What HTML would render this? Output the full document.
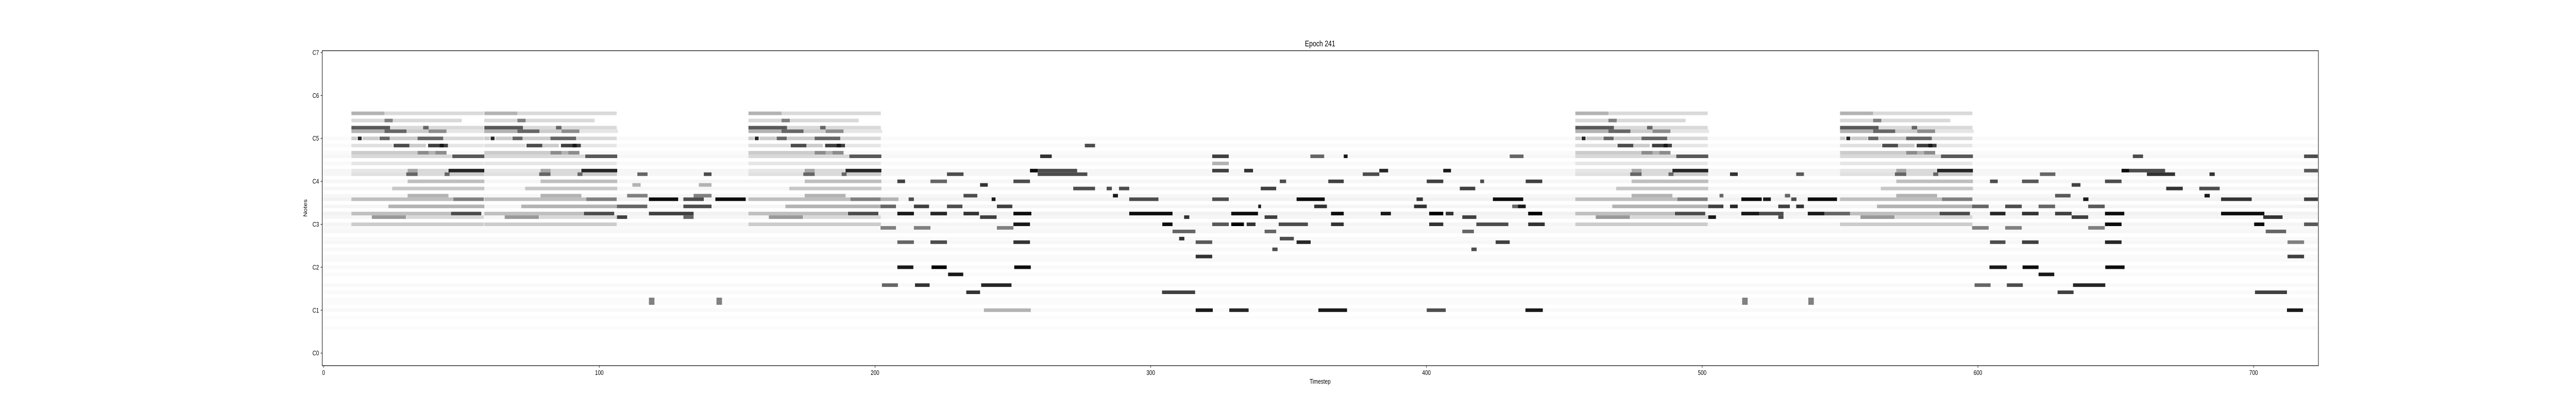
<!DOCTYPE html>
<html><head><meta charset="utf-8"><title>Epoch 241</title>
<style>
html,body{margin:0;padding:0;background:#fff;width:100%;height:100%;overflow:hidden;}
svg{display:block;position:fixed;left:0;top:0;width:100vw;height:100vh;font-family:"Liberation Sans","DejaVu Sans",sans-serif;}
</style></head>
<body>
<svg id="chart" viewBox="0 0 6500 800" preserveAspectRatio="none" xmlns="http://www.w3.org/2000/svg">
<rect width="6500" height="800" fill="#fff"/>
<text x="3331" y="90" font-size="16" text-anchor="middle">Epoch 241</text>
<g id="cells"></g>
<g id="axes"></g>
<text x="3331" y="745" font-size="13" text-anchor="middle">Timestep</text>
<text transform="translate(775,404) rotate(-90)" font-size="13" text-anchor="middle">Notes</text>
</svg>
<script>
// ---- data ----
var xTickValues = [0,100,200,300,400,500,600,700];
var yTickLabels = ["C0","C1","C2","C3","C4","C5","C6","C7"];
var yTickRows = [3,15,27,39,51,63,75,87];
// repeated upper-register motif, events [relStart, length, row, intensity]
var motifNotes = [
[0,12,70,.3],[12,36,70,.15],
[0,12,68,.15],[12,3,68,.5],[15,25,68,.15],
[0,14,66,.65],[14,12,66,.15],[26,2,66,.6],[28,20,66,.15],
[0,12,65,.3],[12,8,65,.6],[20,8,65,.2],[28,6.5,65,.45],[34.5,14,65,.1],
[0,2,63,.2],[2.3,1.4,63,.85],[4,6,63,.2],[10.2,3.7,63,.6],[14,10,63,.2],[24,9.3,63,.6],[33.3,14.7,63,.15],
[0,15,61,.12],[15.3,6,61,.7],[21,6,61,.2],[27.8,7.4,61,.75],[32,1.5,61,.9],[35,13,61,.1],
[0,24,59,.2],[24,4,59,.45],[28,4,59,.3],[30.5,4,59,.45],
[0,36.5,58,.15],[36.6,11.6,58,.65],
[0,48,56,.1],
[0,20.4,54,.1],[20.4,3.7,54,.35],[24,11,54,.15],[35.2,13,54,.85],
[0,20,53,.12],[19.9,4.2,53,.6],[24,10,53,.15],[33.8,2,53,.6],[35.6,12.5,53,.2],
[20.4,27.8,51,.25],[14.8,33.4,49,.22],[20.4,14.8,47,.3],
[0,37,46,.25],[37,11,46,.5],[13.4,34.8,44,.3],
[0,36,42,.25],[36.1,11,42,.7],[7.4,12.4,41,.4],[20,28,41,.15],[0,48,39,.2]
];
var motifStarts = [10.6,58.8,154.6,454.5,550.5];
// faint background rows [start, length, row, intensity]
var hazeNotes = [
[0,724,29,.025],[0,724,30,.02],[0,724,32,.025],[0,724,34,.03],[0,724,35,.02],[0,724,37,.03],
[0,724,38,.025],[0,724,39,.04],[0,724,41,.035],[0,724,42,.05],[0,724,44,.04],[0,724,46,.05],
[0,724,47,.03],[0,724,49,.035],[0,724,51,.035],[0,724,53,.035],[0,724,54,.035],[0,724,56,.02],
[0,724,58,.03],[0,724,59,.02],[0,724,61,.02],[0,724,63,.02],
[0,724,27,.025],[0,724,25,.02],[0,724,22,.025],[0,724,20,.02],[0,724,18,.015],[0,724,17,.015],
[0,724,15,.025],[0,724,13,.01],[0,724,10,.015]
];
// individual notes [start, length, row, intensity]
var noteEvents = [
[118.5,10.6,46,.95],[131,7.4,46,.7],[142.6,11,46,.95],
[106.9,11,44,.6],[131,10.2,44,.7],[118.5,16.2,42,.75],
[106.9,3.7,41,.75],[131,3.7,41,.6],[110.6,7.4,47,.5],[134.7,6.5,47,.5],
[114.3,3.7,53,.6],[138.4,2.8,53,.7],[112.5,3,50,.3],[136.6,4.6,50,.3],
[118.5,2,17,.5],[118.5,2,18,.5],[143,2,17,.5],[143,2,18,.5],
[208.6,2.8,51,.75],[220.6,6,51,.6],[250.7,6,51,.7],[238.6,2.8,50,.8],
[272.4,7.9,49,.7],[284.5,1.9,49,.7],[232.6,5,47,.7],[286.8,1.8,47,.9],
[202.5,6.5,46,.3],[212.7,1.9,46,.7],[242.8,1.4,46,.9],
[202.5,5.6,44,.6],[214.6,5.5,44,.75],[226.6,5.6,44,.7],[244.7,5.6,44,.75],
[208.6,6,42,.9],[220.6,6,42,.85],[232.6,5.6,42,.8],[250.7,6.5,42,.95],
[238.6,6,41,.75],[250.7,6,39,.9],
[202.5,5.6,38,.5],[214.6,6,38,.5],[244.7,6,38,.5],
[208.6,6,34,.6],[220.6,6,34,.7],[250.7,6,34,.8],
[256.7,2.8,54,.95],[259.5,14.3,54,.7],[226.6,6,53,.7],[259.5,18,53,.7],
[260.4,4.2,58,.8],[276.6,3.7,61,.7],
[322.8,6,58,.75],[358.4,5,58,.6],[370.5,1.4,58,.9],[430.7,5,58,.6],
[322.8,6,56,.3],
[322.8,6,54,.75],[334.4,3.2,54,.8],[383.4,3.2,54,.85],[406.6,2.8,54,.9],
[377.4,6,53,.7],
[347.3,2.3,51,.7],[364.9,5.6,51,.75],[400.6,6,51,.75],[420,1.4,51,.7],
[289,3.7,49,.7],[340.4,5.6,49,.75],[412.6,5.6,49,.75],
[292.7,10.6,46,.7],[322.8,6,46,.7],[353.4,10.2,46,.95],[396.9,2.3,46,.8],[424.6,11,46,.95],
[339.5,1,44,.9],[359.8,4.6,44,.8],[396,4.6,44,.8],[431.6,2.6,44,.6],[433.7,2.8,44,.9],
[292.7,15.7,42,.95],[329.7,9.7,42,.95],[365.9,4.6,42,.95],[383.9,3.7,42,.9],[401.5,5.1,42,1],[407.5,2.8,42,.8],
[312.6,1.9,41,.8],[341.8,4.6,41,.75],[413.5,5.1,41,.75],
[304.7,3.7,39,.95],[322.8,6,39,.65],[329.7,4.6,39,1],[335.3,3.2,39,.8],[346.9,10.6,39,.7],[365.9,4.6,39,.8],[401.5,5.1,39,.8],[418.6,11.6,39,.7],
[308.4,8.3,37,.6],[341.8,4.2,37,.6],[413.5,4.2,37,.6],
[310.8,1.9,35,.8],[347.3,5.1,35,.7],
[316.8,6,34,.65],[353.4,5.1,34,.85],[425.6,5.1,34,.75],
[344.6,1.9,32,.7],[416.8,1.9,32,.7],[316.8,6,30,.8],
[510.6,2.8,53,.8],[534.6,2.8,53,.65],[436.5,6,51,.75],
[514.7,7.4,46,.95],[522.6,2.8,46,.9],[532.8,1.9,46,.7],[538.8,10.6,46,.95],
[502.7,5.5,44,.75],[510.6,2.8,44,.85],[528.1,4.2,44,.75],[534.6,2.8,44,.8],
[437.4,5.1,42,1],[514.7,6.5,42,.9],[521.2,8.8,42,.7],[538.8,6,42,.9],[544.8,9.3,42,.6],
[502.7,2.8,41,.9],[528.1,1.9,41,.7],[437.4,6,39,.8],[506.8,1.4,47,.6],[530.5,1.9,47,.6],
[656.7,3.7,58,.7],[718.8,5,58,.7],
[652.6,2.8,54,.95],[655.4,13,54,.7],[718.8,5,54,.65],
[623,5.6,53,.6],[661.8,10.2,53,.8],[684.5,1.9,53,.8],
[604.9,2.8,51,.7],[616.5,6,51,.65],[646.6,6,51,.7],[634.5,3.2,50,.75],
[668.8,6,49,.8],[680.8,7.4,49,.7],[628.5,5.6,47,.65],[682.7,1.9,47,.9],
[638.7,1.9,46,.9],[688.7,11.1,46,.8],[718.8,5,46,.75],
[598.4,6,44,.6],[610.4,6,44,.7],[622.5,6,44,.6],[640.5,6,44,.65],
[604.9,5.6,42,.85],[616.5,6,42,.8],[628.5,6,42,.75],[646.6,7,42,.95],[688.7,15.7,42,.95],
[634.5,6,41,.75],[704,7,41,.8],
[646.6,6,39,.95],[700.7,3.7,39,.95],[718.8,5,39,.65],
[598.4,6,38,.5],[610.4,6,38,.5],[640.5,6,38,.5],[704.9,7.4,37,.6],
[604.9,5.6,34,.7],[616.5,6,34,.75],[646.6,6,34,.85],[712.8,6,34,.5],[712.8,6,30,.75],
[208.6,5.8,27,.9],[221,5.5,27,1],[251,6,27,.95],[227,5.5,25,.9],
[203,5.8,22,.6],[215,5.3,22,.8],[239,11,22,.85],
[233.6,5,20,.8],[304.6,12,20,.75],
[240,17,15,.3],[316.8,6.2,15,.9],[329,7,15,.85],
[361.3,10.4,15,.9],[400.6,6.9,15,.7],[436.4,6.3,15,.9],[712.6,5.8,15,.9],
[604.7,6.3,27,.9],[616.7,5.8,27,.95],[646.7,7,27,.95],[622.5,5.7,25,.9],
[599.3,5.8,22,.6],[611,5.8,22,.7],[635,11.7,22,.85],
[629.4,5.8,20,.75],[701,11.6,20,.75],
[515,2,17,.5],[539,2,17,.5],[515,2,18,.5],[539,2,18,.5]
];
</script>
<script>
var NS = "http://www.w3.org/2000/svg";
var AX_L = 813, AX_R = 5850, AX_T = 98.5, AX_B = 710;
var T0 = -0.5, T1 = 723.5, ROWS = 88;
function xs(t){ return AX_L + (t - T0) / (T1 - T0) * (AX_R - AX_L); }
function ys(r){ return AX_B - r / ROWS * (AX_B - AX_T); }
var cells = document.getElementById("cells");
function shade(a){ var v = Math.round(255 * (1 - Math.max(0, Math.min(1, a)))); return "rgb(" + v + "," + v + "," + v + ")"; }
function drawNote(start, len, row, a, name){
  var r = document.createElementNS(NS, "rect");
  var x0 = Math.max(xs(start - 0.5), AX_L), x1 = Math.min(xs(start - 0.5 + len), AX_R);
  r.setAttribute("x", x0.toFixed(2));
  r.setAttribute("y", ys(row + 1).toFixed(2));
  r.setAttribute("width", Math.max(0, x1 - x0).toFixed(2));
  r.setAttribute("height", (ys(row) - ys(row + 1)).toFixed(2));
  r.setAttribute("fill", shade(a));
  
  
  cells.appendChild(r);
}
hazeNotes.forEach(function(n){ drawNote(n[0], n[1], n[2], n[3], "haze-row"); });
motifStarts.forEach(function(s){
  motifNotes.forEach(function(n){ drawNote(s + n[0], n[1], n[2], n[3], "motif-note"); });
});
noteEvents.forEach(function(n){ drawNote(n[0], n[1], n[2], n[3], "note-cell"); });

var axes = document.getElementById("axes");
var frame = document.createElementNS(NS, "rect");
frame.setAttribute("x", AX_L); frame.setAttribute("y", AX_T);
frame.setAttribute("width", AX_R - AX_L); frame.setAttribute("height", AX_B - AX_T);
frame.setAttribute("fill", "none"); frame.setAttribute("stroke", "#000"); frame.setAttribute("stroke-width", "1.2");


axes.appendChild(frame);
xTickValues.forEach(function(v){
  var x = xs(v);
  var l = document.createElementNS(NS, "line");
  l.setAttribute("x1", x); l.setAttribute("x2", x); l.setAttribute("y1", AX_B); l.setAttribute("y2", AX_B + 4);
  l.setAttribute("stroke", "#000"); l.setAttribute("stroke-width", "1");
  
  
  axes.appendChild(l);
  var t = document.createElementNS(NS, "text");
  t.setAttribute("x", x); t.setAttribute("y", AX_B + 18);
  t.setAttribute("font-size", "13"); t.setAttribute("text-anchor", "middle");
  t.textContent = String(v);
  
  
  axes.appendChild(t);
});
yTickRows.forEach(function(r, i){
  var y = ys(r + 0.5);
  var l = document.createElementNS(NS, "line");
  l.setAttribute("x1", AX_L - 4); l.setAttribute("x2", AX_L); l.setAttribute("y1", y); l.setAttribute("y2", y);
  l.setAttribute("stroke", "#000"); l.setAttribute("stroke-width", "1");
  
  
  axes.appendChild(l);
  var t = document.createElementNS(NS, "text");
  t.setAttribute("x", AX_L - 8); t.setAttribute("y", y + 4.5);
  t.setAttribute("font-size", "13"); t.setAttribute("text-anchor", "end");
  t.textContent = yTickLabels[i];
  
  
  axes.appendChild(t);
});
</script>
</body></html>
